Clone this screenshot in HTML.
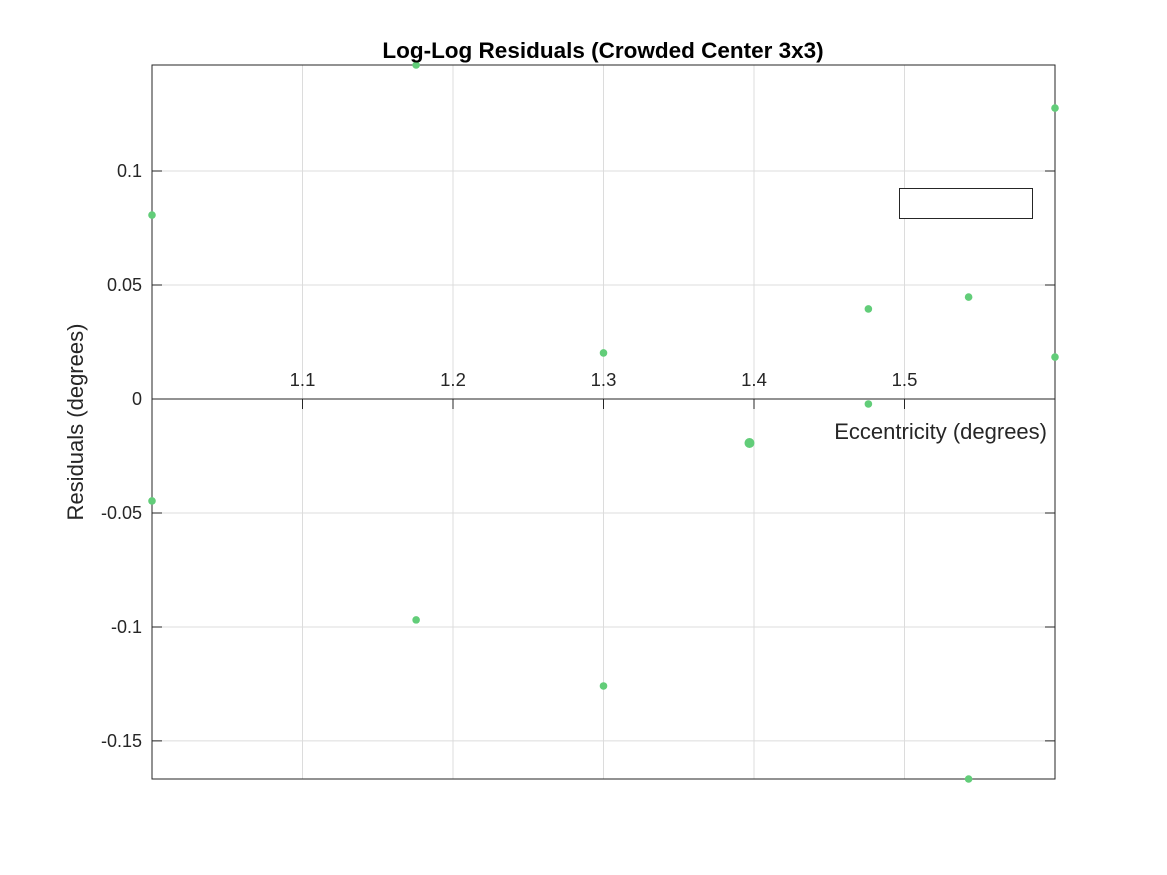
<!DOCTYPE html>
<html><head><meta charset="utf-8"><style>
body{margin:0;background:#fff;}
svg{display:block;font-family:"Liberation Sans",Helvetica,sans-serif;}
</style></head><body>
<svg id="chart" width="1167" height="875" viewBox="0 0 1167 875" xmlns="http://www.w3.org/2000/svg">
<rect width="1167" height="875" fill="#fff"/>
<g id="grid"></g>
<g id="axes"></g>
<g id="pts"></g>
<text x="603" y="58" text-anchor="middle" font-size="22.5" font-weight="bold" fill="#000">Log-Log Residuals (Crowded Center 3x3)</text>
<text x="1047" y="439" text-anchor="end" font-size="22" fill="#262626">Eccentricity (degrees)</text>
<text transform="translate(83,422) rotate(-90)" text-anchor="middle" font-size="22" fill="#262626">Residuals (degrees)</text>
<rect x="899.5" y="188.5" width="133" height="30" fill="#fff" stroke="#262626" stroke-width="1"/>
</svg>
<script>
const xData=[1.0,1.0,1.1755,1.1755,1.3,1.3,1.397,1.476,1.476,1.5426,1.5426,1.6,1.6];
const yData=[0.0807,-0.0447,0.1465,-0.0969,0.0202,-0.1259,-0.0193,0.0395,-0.0022,0.0447,-0.1667,0.1276,0.0184];
const bigPoint=[0,0,0,0,0,0,1,0,0,0,0,0,0];
const xTicks=[1.1,1.2,1.3,1.4,1.5,1.6];
const xTickLabels=["1.1","1.2","1.3","1.4","1.5",""];
const yTicks=[0.1,0.05,0,-0.05,-0.1,-0.15];
const yTickLabels=["0.1","0.05","0","-0.05","-0.1","-0.15"];
const L=152,R=1055,T=65,B=779,xMin=1,xMax=1.6,yMin=-0.1667,yMax=0.1465;
const X=v=>L+(v-xMin)/(xMax-xMin)*(R-L);
const Y=v=>B-(v-yMin)/(yMax-yMin)*(B-T);
const NS="http://www.w3.org/2000/svg";
function mk(tag,attrs,parent,text){const e=document.createElementNS(NS,tag);for(const k in attrs)e.setAttribute(k,attrs[k]);if(text!==undefined)e.textContent=text;parent.appendChild(e);return e;}
const grid=document.getElementById('grid'),axes=document.getElementById('axes'),pts=document.getElementById('pts');
xTicks.forEach((t,i)=>{const x=X(t);
 const g=mk('line',{x1:x,x2:x,y1:T,y2:B,stroke:'#dcdcdc','stroke-width':1},grid);
 
 
 const k=mk('line',{x1:x,x2:x,y1:Y(0),y2:Y(0)+10,stroke:'#262626','stroke-width':1},axes);
 
 
 if(xTickLabels[i]){const tx=mk('text',{x:x,y:Y(0)-13,'text-anchor':'middle','font-size':18.5,fill:'#262626'},axes,xTickLabels[i]);
 
 }
});
yTicks.forEach((t,i)=>{const y=Y(t);
 const g=mk('line',{x1:L,x2:R,y1:y,y2:y,stroke:'#dcdcdc','stroke-width':1},grid);
 
 
 const k=mk('path',{d:`M${L},${y}h10M${R},${y}h-10`,stroke:'#262626','stroke-width':1},axes);
 
 
 const tx=mk('text',{x:L-10,y:y+6,'text-anchor':'end','font-size':18,fill:'#262626'},axes,yTickLabels[i]);
 
 
});
const box=mk('rect',{x:L,y:T,width:R-L,height:B-T,fill:'none',stroke:'#262626','stroke-width':1},axes);


const xa=mk('line',{x1:L,x2:R,y1:Y(0),y2:Y(0),stroke:'#262626','stroke-width':1},axes);


xData.forEach((v,i)=>{const c=mk('circle',{cx:X(v),cy:Y(yData[i]),r:bigPoint[i]?5:3.8,fill:'#62cd79'},pts);
 
 
});
</script>
</body></html>
